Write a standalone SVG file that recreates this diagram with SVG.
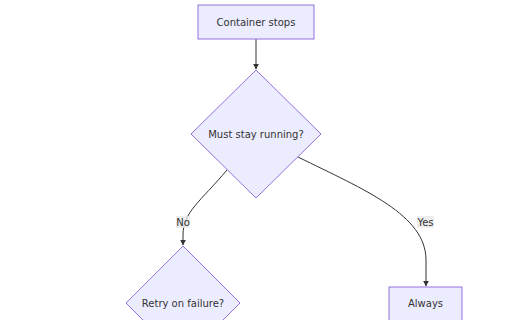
<svg xmlns="http://www.w3.org/2000/svg" width="512" height="320" viewBox="0 0 512 320">
<style>
.node rect, .node polygon { fill: #ECECFF; stroke: #9370DB; stroke-width: 1; }
.node text { font-family: "DejaVu Sans", sans-serif; font-size: 10px; fill: #333333; text-anchor: middle; dominant-baseline: central; }
.edge { fill: none; stroke: #333333; stroke-width: 1; }
.lbl rect { fill: #e8e8e8; opacity: 0.8; }
.lbl text { font-family: "DejaVu Sans", sans-serif; font-size: 10px; fill: #333333; text-anchor: middle; dominant-baseline: central; }
</style>
<defs>
<marker id="arrow" viewBox="0 0 10 10" refX="9" refY="5" markerWidth="6" markerHeight="6" markerUnits="userSpaceOnUse" orient="auto">
<path d="M0,0 L10,5 L0,10 z" fill="#333333"/>
</marker>
</defs>
<rect width="512" height="320" fill="#ffffff"/>
<g id="connectors">
<path class="edge" d="M256,39 L256,69" marker-end="url(#arrow)"/>
<path class="edge" d="M227,170 C200,202 183,212 183,235 L183,245" marker-end="url(#arrow)"/>
<path class="edge" d="M298,157 C365,190 426,215 426,260 L426,286" marker-end="url(#arrow)"/>
<g class="lbl"><rect x="176" y="216" width="14" height="12"/><text x="183" y="222">No</text></g>
<g class="lbl"><rect x="417" y="216" width="17" height="12"/><text x="425.5" y="222">Yes</text></g>
</g>
<g id="node-start" class="node">
<rect x="198" y="5" width="116" height="34"/>
<text x="256" y="22">Container stops</text>
</g>
<g id="node-must" class="node">
<polygon points="256,70 321,134 256,198 191,134"/>
<text x="256" y="134">Must stay running?</text>
</g>
<g id="node-retry" class="node">
<polygon points="183,246 240,303 183,360 126,303"/>
<text x="183" y="303">Retry on failure?</text>
</g>
<g id="node-always" class="node">
<rect x="389" y="287" width="73" height="34"/>
<text x="425.5" y="303">Always</text>
</g>
</svg>
